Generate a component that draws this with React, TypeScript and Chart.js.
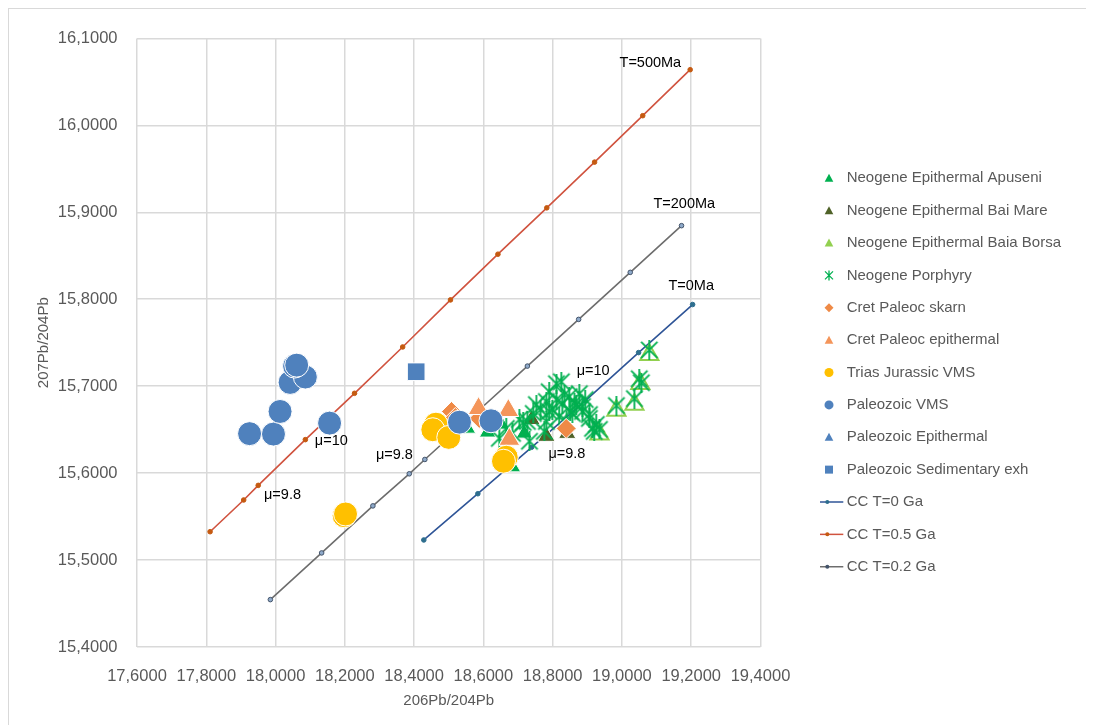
import React, { useEffect, useRef } from "react";
import { Chart, registerables } from "chart.js";

Chart.register(...registerables);

const FONT = '"Liberation Sans", Arial, sans-serif';
const TEXT_GRAY = "#595959";

// Axis ranges / ticks
const X_MIN = 17.6;
const X_MAX = 19.4;
const X_STEP = 0.2;
const Y_MIN = 15.4;
const Y_MAX = 16.1;
const Y_STEP = 0.1;
const X_TITLE = "206Pb/204Pb";
const Y_TITLE = "207Pb/204Pb";

// Series: Neogene Epithermal Apuseni
const apuseniX = [18.554, 18.612, 18.684, 18.718, 18.652];
const apuseniY = [15.6514, 15.6469, 15.6069, 15.6457, 15.656];

// Neogene Epithermal Bai Mare
const baiMareX = [18.782, 18.842, 18.739];
const baiMareY = [15.6423, 15.6457, 15.6617];

// Neogene Epithermal Baia Borsa
const baiaBorsaX = [19.079, 19.053, 19.036, 18.984, 18.935];
const baiaBorsaY = [15.736, 15.7029, 15.6789, 15.672, 15.6446];

// Neogene Porphyry
const porphyryX = [
  18.646, 18.666, 18.684, 18.704, 18.715, 18.727, 18.733, 18.744, 18.753, 18.765,
  18.776, 18.782, 18.782, 18.79, 18.79, 18.799, 18.811, 18.811, 18.819, 18.825,
  18.828, 18.834, 18.84, 18.848, 18.851, 18.857, 18.863, 18.868, 18.877, 18.886,
  18.886, 18.894, 18.906, 18.906, 18.915, 18.92, 18.926, 18.935, 18.984, 19.036,
  19.05, 19.056, 19.079,
];
const porphyryY = [
  15.64, 15.6514, 15.6457, 15.6617, 15.6583, 15.6594, 15.6366, 15.6686, 15.6789, 15.6731,
  15.648, 15.6823, 15.6594, 15.6937, 15.6709, 15.6731, 15.7029, 15.6846, 15.6651, 15.7051,
  15.68, 15.6903, 15.6594, 15.688, 15.6709, 15.6686, 15.6811, 15.6789, 15.6914, 15.6766,
  15.6709, 15.6846, 15.6674, 15.6629, 15.6514, 15.648, 15.656, 15.6503, 15.6777, 15.6857,
  15.7086, 15.704, 15.7417,
];

// Cret Paleoc skarn
const skarnX = [18.508, 18.519, 18.588, 18.839];
const skarnY = [15.6709, 15.664, 15.6629, 15.6514];

// Cret Paleoc epithermal
const cretEpiX = [18.586, 18.672, 18.675];
const cretEpiY = [15.6743, 15.672, 15.6389];

// Trias Jurassic VMS
const triasX = [18.198, 18.202, 18.463, 18.454, 18.5, 18.666, 18.658];
const triasY = [15.551, 15.553, 15.6563, 15.6499, 15.6411, 15.6183, 15.6137];

// Paleozoic VMS
const paleoVmsX = [17.925, 17.994, 18.013, 18.042, 18.086, 18.055, 18.061, 18.156, 18.531, 18.622];
const paleoVmsY = [15.6454, 15.6449, 15.6709, 15.7043, 15.7105, 15.7231, 15.7242, 15.6575, 15.6586, 15.6602];

// Paleozoic Epithermal (no visible points)
const paleoEpiX: number[] = [];
const paleoEpiY: number[] = [];

// Paleozoic Sedimentary exh
const paleoSedX = [18.406];
const paleoSedY = [15.7166];

// CC growth curves
const cc0X = [18.428, 18.584, 18.739, 18.894, 19.048, 19.204];
const cc0Y = [15.5231, 15.5763, 15.6297, 15.6831, 15.7386, 15.7939];
const cc05X = [17.811, 17.908, 17.95, 18.086, 18.228, 18.367, 18.505, 18.642, 18.783, 18.921, 19.06, 19.197];
const cc05Y = [15.5326, 15.5691, 15.5859, 15.6385, 15.6918, 15.7451, 15.7992, 15.8518, 15.9051, 15.9577, 16.0111, 16.064];
const cc02X = [17.985, 18.133, 18.281, 18.386, 18.431, 18.579, 18.727, 18.875, 19.024, 19.172];
const cc02Y = [15.4545, 15.5082, 15.5623, 15.5992, 15.6157, 15.6694, 15.7231, 15.7768, 15.8309, 15.8846];

// Annotations
const annoText = ["T=500Ma", "T=200Ma", "T=0Ma", "μ=10", "μ=9.8", "μ=9.8", "μ=9.8", "μ=10"];
const annoX = [19.082, 19.18, 19.2, 18.161, 18.02, 18.343, 18.841, 18.917];
const annoY = [16.072, 15.91, 15.815, 15.6366, 15.5749, 15.6206, 15.6217, 15.7177];

// Legend labels
const legendLabels = [
  "Neogene Epithermal Apuseni",
  "Neogene Epithermal Bai Mare",
  "Neogene Epithermal Baia Borsa",
  "Neogene Porphyry",
  "Cret Paleoc skarn",
  "Cret Paleoc epithermal",
  "Trias Jurassic VMS",
  "Paleozoic VMS",
  "Paleozoic Epithermal",
  "Paleozoic Sedimentary exh",
  "CC T=0 Ga",
  "CC T=0.5 Ga",
  "CC T=0.2 Ga",
];

const pts = (xs: number[], ys: number[]) => xs.map((x, i) => ({ x, y: ys[i] }));
const fmt = (v: number) => v.toFixed(4).replace(".", ",");

function makeAsterisk(size: number, color: string, lw: number) {
  const c = document.createElement("canvas");
  c.width = size;
  c.height = size;
  const g = c.getContext("2d")!;
  g.strokeStyle = color;
  g.lineWidth = lw;
  const m = lw;
  g.beginPath();
  g.moveTo(m, m);
  g.lineTo(size - m, size - m);
  g.moveTo(size - m, m);
  g.lineTo(m, size - m);
  g.moveTo(size / 2, 0);
  g.lineTo(size / 2, size);
  g.stroke();
  return c;
}

type Sym =
  | { kind: "tri"; color: string }
  | { kind: "aster"; color: string }
  | { kind: "diamond"; color: string }
  | { kind: "circle"; color: string }
  | { kind: "square"; color: string }
  | { kind: "line"; color: string; dot: string };

const legendSyms: Sym[] = [
  { kind: "tri", color: "#00b050" },
  { kind: "tri", color: "#4f6228" },
  { kind: "tri", color: "#92d050" },
  { kind: "aster", color: "#00b050" },
  { kind: "diamond", color: "#ef8a46" },
  { kind: "tri", color: "#f4955a" },
  { kind: "circle", color: "#ffc000" },
  { kind: "circle", color: "#4f81bd" },
  { kind: "tri", color: "#4f81bd" },
  { kind: "square", color: "#4f81bd" },
  { kind: "line", color: "#2f5597", dot: "#2e6e8e" },
  { kind: "line", color: "#d0533f", dot: "#c55a11" },
  { kind: "line", color: "#6d6d6d", dot: "#44546a" },
];

const legendPlugin = {
  id: "customLegend",
  afterDraw(chart: any) {
    const ctx: CanvasRenderingContext2D = chart.ctx;
    const sx = 820;
    const tx = 837.7;
    const y0 = 169.3;
    const dy = 32.37;
    ctx.save();
    legendLabels.forEach((label, i) => {
      const y = y0 + i * dy;
      const s = legendSyms[i];
      ctx.fillStyle = s.color;
      ctx.strokeStyle = s.color;
      ctx.beginPath();
      if (s.kind === "tri") {
        ctx.moveTo(sx, y - 4.5);
        ctx.lineTo(sx + 4.3, y + 3.5);
        ctx.lineTo(sx - 4.3, y + 3.5);
        ctx.closePath();
        ctx.fill();
      } else if (s.kind === "circle") {
        ctx.arc(sx, y, 4.5, 0, Math.PI * 2);
        ctx.fill();
      } else if (s.kind === "diamond") {
        ctx.moveTo(sx, y - 4.5);
        ctx.lineTo(sx + 4.5, y);
        ctx.lineTo(sx, y + 4.5);
        ctx.lineTo(sx - 4.5, y);
        ctx.closePath();
        ctx.fill();
      } else if (s.kind === "square") {
        ctx.rect(sx - 4, y - 4, 8, 8);
        ctx.fill();
      } else if (s.kind === "aster") {
        ctx.lineWidth = 1.3;
        ctx.moveTo(sx - 4, y - 4);
        ctx.lineTo(sx + 4, y + 4);
        ctx.moveTo(sx + 4, y - 4);
        ctx.lineTo(sx - 4, y + 4);
        ctx.moveTo(sx, y - 5);
        ctx.lineTo(sx, y + 5);
        ctx.stroke();
      } else if (s.kind === "line") {
        ctx.lineWidth = 1.5;
        ctx.moveTo(811, y);
        ctx.lineTo(834.3, y);
        ctx.stroke();
        ctx.beginPath();
        ctx.fillStyle = s.dot;
        ctx.arc(818.3, y, 2, 0, Math.PI * 2);
        ctx.fill();
      }
      ctx.fillStyle = TEXT_GRAY;
      ctx.font = `15px ${FONT}`;
      ctx.textBaseline = "middle";
      ctx.textAlign = "left";
      ctx.fillText(label, tx, y);
    });
    ctx.restore();
  },
};

const annotationPlugin = {
  id: "annotations",
  afterDatasetsDraw(chart: any) {
    const ctx: CanvasRenderingContext2D = chart.ctx;
    const xs = chart.scales.x;
    const ys = chart.scales.y;
    ctx.save();
    ctx.fillStyle = "#000";
    ctx.font = `14.5px ${FONT}`;
    ctx.textAlign = "center";
    ctx.textBaseline = "middle";
    annoText.forEach((t, i) => {
      ctx.fillText(t, xs.getPixelForValue(annoX[i]), ys.getPixelForValue(annoY[i]));
    });
    ctx.restore();
  },
};

export default function App() {
  const ref = useRef<HTMLCanvasElement>(null);

  useEffect(() => {
    document.documentElement.style.overflow = "hidden";
    document.body.style.overflow = "hidden";
    const asterisk = makeAsterisk(20, "#00b050", 1.8);

    const scatterBase = (label: string, data: any[], style: any, idx: number) => ({
      label,
      data,
      showLine: false,
      order: 50 - idx,
      pointBorderColor: "#ffffff",
      pointBorderWidth: 1,
      ...style,
    });

    const lineBase = (label: string, data: any[], color: string, dot: string, dotBorder: string, idx: number) => ({
      label,
      data,
      showLine: true,
      order: 100 + idx,
      borderColor: color,
      borderWidth: 1.6,
      pointRadius: 2.3,
      pointBackgroundColor: dot,
      pointBorderColor: dotBorder,
      pointBorderWidth: 1,
      pointStyle: "circle",
      tension: 0,
    });

    const chart = new Chart(ref.current!, {
      type: "scatter",
      data: {
        datasets: [
          scatterBase(legendLabels[0], pts(apuseniX, apuseniY), { pointStyle: "triangle", pointRadius: 9.5, pointBackgroundColor: "#00b050" }, 0),
          scatterBase(legendLabels[1], pts(baiMareX, baiMareY), { pointStyle: "triangle", pointRadius: 10, pointBackgroundColor: "#4f6228" }, 1),
          scatterBase(legendLabels[2], pts(baiaBorsaX, baiaBorsaY), {
            pointStyle: "triangle",
            pointRadius: 10.5,
            pointBackgroundColor: "rgba(255,255,255,0)",
            pointBorderColor: "#92d050",
            pointBorderWidth: 2,
          }, 2),
          scatterBase(legendLabels[3], pts(porphyryX, porphyryY), { pointStyle: asterisk, pointRadius: 9 }, 3),
          scatterBase(legendLabels[4], pts(skarnX, skarnY), { pointStyle: "rectRot", pointRadius: 10, pointBackgroundColor: "#ef8a46" }, 4),
          scatterBase(legendLabels[5], pts(cretEpiX, cretEpiY), { pointStyle: "triangle", pointRadius: 12, pointBackgroundColor: "#f4955a" }, 5),
          scatterBase(legendLabels[6], pts(triasX, triasY), { pointStyle: "circle", pointRadius: 12, pointBackgroundColor: "#ffc000" }, 6),
          scatterBase(legendLabels[7], pts(paleoVmsX, paleoVmsY), { pointStyle: "circle", pointRadius: 12, pointBackgroundColor: "#4f81bd" }, 7),
          scatterBase(legendLabels[8], pts(paleoEpiX, paleoEpiY), { pointStyle: "triangle", pointRadius: 10, pointBackgroundColor: "#4f81bd" }, 8),
          scatterBase(legendLabels[9], pts(paleoSedX, paleoSedY), { pointStyle: "rect", pointRadius: 12.5, pointBackgroundColor: "#4f81bd" }, 9),
          lineBase(legendLabels[10], pts(cc0X, cc0Y), "#2f5597", "#2e6e8e", "#2e6e8e", 0),
          lineBase(legendLabels[11], pts(cc05X, cc05Y), "#d0533f", "#c55a11", "#c55a11", 1),
          lineBase(legendLabels[12], pts(cc02X, cc02Y), "#6d6d6d", "#8ea9c9", "#44546a", 2),
        ] as any,
      },
      options: {
        responsive: false,
        animation: false,
        layout: { padding: { left: 20, right: 331.5, top: 24.5, bottom: 7 } },
        plugins: {
          legend: { display: false },
          tooltip: { enabled: false },
        },
        scales: {
          x: {
            type: "linear",
            min: X_MIN,
            max: X_MAX,
            afterFit: (s: any) => {
              s.height = 70;
            },
            ticks: {
              stepSize: X_STEP,
              padding: 20,
              color: TEXT_GRAY,
              font: { family: FONT, size: 16.5 },
              callback: (v: any) => fmt(Number(v)),
            },
            grid: { color: "#d9d9d9", lineWidth: 1.5, drawTicks: false },
            border: { display: false },
            title: {
              display: true,
              text: X_TITLE,
              color: TEXT_GRAY,
              font: { family: FONT, size: 15 },
              padding: { top: 0, bottom: 7 },
            },
          },
          y: {
            type: "linear",
            min: Y_MIN,
            max: Y_MAX,
            afterFit: (s: any) => {
              s.width = 108;
            },
            ticks: {
              stepSize: Y_STEP,
              padding: 19.5,
              color: TEXT_GRAY,
              font: { family: FONT, size: 16.5 },
              callback: (v: any) => fmt(Number(v)),
            },
            grid: { color: "#d9d9d9", lineWidth: 1.5, drawTicks: false },
            border: { display: false },
            title: {
              display: true,
              text: Y_TITLE,
              color: TEXT_GRAY,
              font: { family: FONT, size: 15 },
              padding: { top: 6, bottom: 0 },
            },
          },
        },
      },
      plugins: [annotationPlugin, legendPlugin],
    } as any);

    return () => chart.destroy();
  }, []);

  return (
    <div style={{ width: 1100, height: 730, border: "1px solid #d9d9d9", background: "#fff" }}>
      <canvas ref={ref} width={1083} height={715} style={{ display: "block", width: 1083, height: 715 }} />
    </div>
  );
}
